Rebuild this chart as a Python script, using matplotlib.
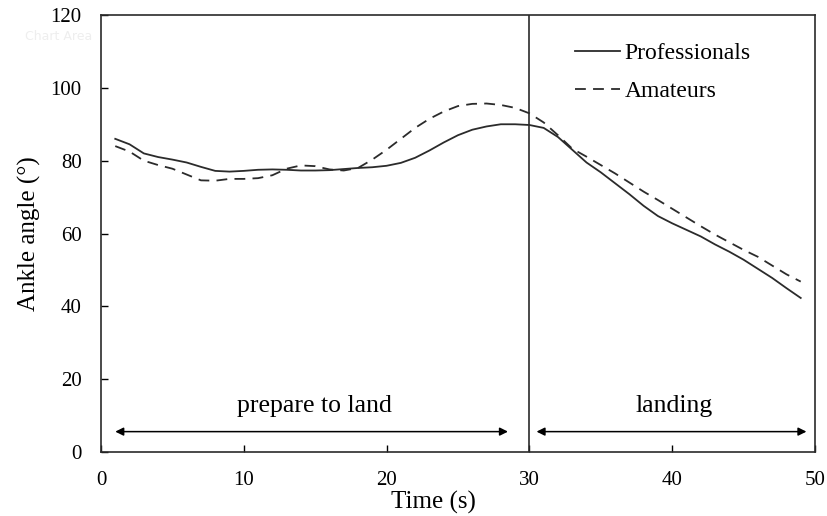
import numpy as np
import matplotlib
matplotlib.use("Agg")
from matplotlib import pyplot as plt

# ankle angle, one value per second
time_s = list(range(1, 50))
professionals = [86, 84.5, 82, 81, 80.3, 79.5, 78.3, 77.2, 77, 77.2,
                 77.5, 77.6, 77.5, 77.3, 77.3, 77.4, 77.7, 78, 78.2, 78.6,
                 79.4, 80.8, 82.8, 85, 87, 88.5, 89.4, 90, 90, 89.8,
                 89, 86.5, 83, 79.5, 76.8, 73.8, 70.8, 67.6, 64.8, 62.8,
                 61, 59.2, 57, 55, 52.8, 50.3, 47.8, 45, 42.3]
amateurs = [84, 82.5, 80, 78.8, 77.8, 76.2, 74.6, 74.5, 75, 75,
            75.2, 76, 77.8, 78.7, 78.5, 77.6, 77.3, 78, 80.3, 83,
            86, 89, 91.5, 93.5, 95, 95.6, 95.7, 95.3, 94.5, 93,
            90.5, 87, 83.3, 81.1, 78.8, 76.5, 74, 71.5, 69.2, 66.8,
            64.4, 62, 59.7, 57.6, 55.5, 53.6, 51.2, 48.8, 46.8]

phases = ["prepare to land", "landing"]
phase_spans = [(1, 28.5), (30.5, 49.4)]
boundary = 30

plt.rcParams['font.family'] = ['Liberation Serif', 'DejaVu Serif']

fig = plt.figure(figsize=(8.27, 5.16), dpi=100)
ax = fig.add_axes([0.1221, 0.124, 0.8634, 0.8469])

ax.plot(time_s, professionals, color='#2b2b2b', lw=1.3, label='Professionals')
ax.plot(time_s, amateurs, color='#2b2b2b', lw=1.3, ls=(0, (6, 4)), label='Amateurs')
ax.axvline(boundary, color='#2b2b2b', lw=1.2)

for name, (a, b) in zip(phases, phase_spans):
    ax.annotate('', xy=(a, 5.6), xytext=(b, 5.6),
                arrowprops=dict(arrowstyle='<|-|>', color='black', lw=1.1,
                                mutation_scale=12, shrinkA=0, shrinkB=0))
    ax.text((a + b) / 2 + 0.2, 12.5, name, ha='center', va='center', fontsize=18.5)

ax.set_xlim(0, 50)
ax.set_ylim(0, 120)
ax.set_xticks(range(0, 51, 10))
ax.set_yticks(range(0, 121, 20))
ax.tick_params(direction='in', length=5, width=1, labelsize=15, pad=14)
for s in ax.spines.values():
    s.set_linewidth(1.2)
    s.set_color('#2b2b2b')

ax.set_xlabel('Time (s)', fontsize=18)
ax.xaxis.set_label_coords(0.465, -0.088)
ax.set_ylabel('Ankle angle (°)', fontsize=18)
ax.yaxis.set_label_coords(-0.084, 0.5)

ax.legend(loc='upper right', frameon=False, fontsize=17, handlelength=1.9,
          handletextpad=0.2, bbox_to_anchor=(0.94, 0.985), labelspacing=0.7)

# faint leftover "Chart Area" tooltip seen in the source image
fig.text(0.03, 0.93, 'Chart Area', fontsize=9, color='#eeeeee',
         family='DejaVu Sans', va='center', zorder=0)

fig.savefig('out.png', dpi=100)
